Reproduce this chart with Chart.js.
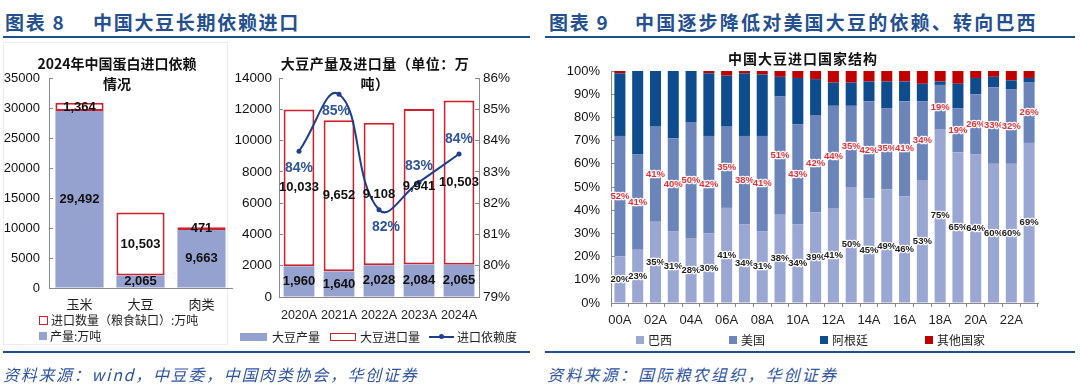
<!DOCTYPE html>
<html>
<head>
<meta charset="utf-8">
<script src="https://cdn.jsdelivr.net/npm/chart.js@4.4.0/dist/chart.umd.min.js"></script>
<style>
body{margin:0;width:1080px;height:390px;background:#fff;position:relative;overflow:hidden;font-family:"Noto Sans CJK SC",sans-serif}
.abs{position:absolute}
.hdr{font-weight:bold;color:#24508f;font-size:19px;line-height:22px;letter-spacing:1.7px;white-space:nowrap}
.rule{height:2px;background:#1f4e8c}
.src{font-style:italic;color:#2f55a0;font-size:16px;line-height:20px;letter-spacing:2.2px;white-space:nowrap}
.ttl{font-weight:bold;font-size:14px;color:#111;text-align:center;line-height:20px;white-space:nowrap}
.lg{font-size:12px;color:#222;white-space:nowrap;line-height:14px;display:flex;align-items:center}
.sw{display:inline-block;box-sizing:border-box;margin-right:3px}
canvas{position:absolute}
</style>
</head>
<body>
<!-- left panel -->
<div class="abs hdr" style="left:5px;top:11px">图表 8</div>
<div class="abs hdr" style="left:93px;top:11px">中国大豆长期依赖进口</div>
<div class="abs rule" style="left:3px;top:36px;width:527px"></div>
<div class="abs" style="left:3px;top:42px;width:225px;height:303px;border:1px solid #ececec;box-sizing:border-box"></div>
<canvas id="c1" width="236" height="278" style="left:0;top:42px"></canvas>
<canvas id="c2" width="300" height="290" style="left:232px;top:42px"></canvas>
<div class="abs ttl" style="left:17px;top:53px;width:200px">2024年中国蛋白进口依赖<br>情况</div>
<div class="abs ttl" style="left:275px;top:53px;width:200px;letter-spacing:0.5px">大豆产量及进口量（单位：万<br>吨）</div>
<div class="abs lg" style="left:39px;top:313px"><span class="sw" style="width:9px;height:9px;border:1.5px solid #d0202e;background:#fff"></span>进口数量（粮食缺口）:万吨</div>
<div class="abs lg" style="left:39px;top:329px"><span class="sw" style="width:8px;height:8px;background:#95a2cf"></span>产量:万吨</div>
<div class="abs lg" style="left:240px;top:330px">
  <span class="sw" style="width:27px;height:8px;background:#95a2cf;margin-right:5px"></span>大豆产量
  <span class="sw" style="width:26px;height:8px;border:1.5px solid #d0202e;background:#fff;margin-left:10px;margin-right:4px"></span>大豆进口量
  <span class="sw" style="width:25px;height:2px;background:#1f3f8a;margin-left:9px;margin-right:3px;position:relative"><span style="position:absolute;left:10px;top:-2px;width:5px;height:5px;border-radius:50%;background:#1f3f8a"></span></span>进口依赖度
</div>
<div class="abs rule" style="left:3px;top:351px;width:527px"></div>
<div class="abs src" style="left:3px;top:364px;letter-spacing:1.7px">资料来源：wind，中豆委，中国肉类协会，华创证券</div>

<!-- right panel -->
<div class="abs hdr" style="left:549px;top:11px">图表 9</div>
<div class="abs hdr" style="left:635px;top:11px;letter-spacing:2.2px">中国逐步降低对美国大豆的依赖、转向巴西</div>
<div class="abs rule" style="left:545px;top:36px;width:530px"></div>
<canvas id="c3" width="530" height="290" style="left:545px;top:42px"></canvas>
<div class="abs ttl" style="left:703px;top:48px;width:200px;letter-spacing:1px">中国大豆进口国家结构</div>
<div class="abs lg" style="left:636px;top:333px"><span class="sw" style="width:8px;height:8px;background:#9ba7d3;margin-right:4px"></span>巴西</div>
<div class="abs lg" style="left:729px;top:333px"><span class="sw" style="width:8px;height:8px;background:#6b84ba;margin-right:4px"></span>美国</div>
<div class="abs lg" style="left:820px;top:333px"><span class="sw" style="width:8px;height:8px;background:#0e4c8e;margin-right:4px"></span>阿根廷</div>
<div class="abs lg" style="left:925px;top:333px"><span class="sw" style="width:8px;height:8px;background:#c00000;margin-right:4px"></span>其他国家</div>
<div class="abs rule" style="left:545px;top:351px;width:530px"></div>
<div class="abs src" style="left:547px;top:364px">资料来源：国际粮农组织，华创证券</div>

<script>
// 2024 protein import dependence (万吨)
const crops = ['玉米', '大豆', '肉类'];
const cropOutput = [29492, 2065, 9663];
const cropImport = [1364, 10503, 471];

// soybean output / imports (万吨) and import dependence (%)
const soyYears = ['2020A', '2021A', '2022A', '2023A', '2024A'];
const soyOutput = [1960, 1640, 2028, 2084, 2065];
const soyImport = [10033, 9652, 9108, 9941, 10503];
const soyRatio = [83.66, 85.48, 81.79, 82.67, 83.57];

// soybean import origin shares (%)
const originYears = ['00A','01A','02A','03A','04A','05A','06A','07A','08A','09A','10A','11A',
                     '12A','13A','14A','15A','16A','17A','18A','19A','20A','21A','22A','23A'];
const brazil = [20,23,35,31,28,30,41,34,31,38,34,39,41,50,45,49,46,53,75,65,64,60,60,69];
const usa = [52,41,41,40,50,42,35,38,41,51,43,42,44,35,42,35,41,34,19,19,26,33,32,26];
const argentina = [27,36,24,29,22,27,22,27,26.5,8.5,20,15.5,10,10,8.5,11.5,8.5,7.5,1.5,10.5,7,4.5,4,2];
const others = [1,0,0,0,0,1,2,1,1.5,2.5,3,3.5,5,5,4.5,4.5,4.5,5.5,4.5,5.5,3,2.5,4,3];

const BLUE = '#95a2cf', RED = '#d0202e', AX = '#8a8a8a';
const CJK = '"Noto Sans CJK SC", sans-serif';
Chart.defaults.font.family = '"Liberation Sans", Arial, sans-serif';
Chart.defaults.color = '#111';

const thousands = v => v.toLocaleString('en-US');

// draws text labels on bar segments / line points
function segLabels(specs) {
  return {
    id: 'segLabels',
    afterDatasetsDraw(chart) {
      const ctx = chart.ctx;
      specs.forEach(s => {
        const meta = chart.getDatasetMeta(s.ds);
        const vals = chart.data.datasets[s.ds].data;
        meta.data.forEach((el, i) => {
          const p = el.getProps(['x', 'y', 'base'], true);
          let x = p.x, y;
          if (s.at) { x += s.at[i][0]; y = p.y + s.at[i][1]; }
          else y = (p.y + p.base) / 2;
          const txt = s.text(vals[i]);
          ctx.save();
          ctx.font = s.font;
          ctx.textAlign = 'center';
          ctx.textBaseline = 'middle';
          if (s.halo) {
            ctx.lineWidth = s.halo; ctx.strokeStyle = '#fff'; ctx.lineJoin = 'round';
            ctx.strokeText(txt, x, y);
          }
          ctx.fillStyle = s.color;
          ctx.fillText(txt, x, y);
          ctx.restore();
        });
      });
    }
  };
}

const noPlug = { legend: { display: false }, tooltip: { enabled: false } };

// chart 1
new Chart(document.getElementById('c1'), {
  type: 'bar',
  data: {
    labels: crops,
    datasets: [
      { label: '产量:万吨', data: cropOutput, backgroundColor: BLUE, borderWidth: 0 },
      { label: '进口数量（粮食缺口）:万吨', data: cropImport, backgroundColor: '#fff',
        borderColor: RED, borderWidth: 2, borderSkipped: false }
    ]
  },
  options: {
    responsive: false, animation: false,
    layout: { padding: { top: 36, right: 4, left: 0, bottom: 0 } },
    datasets: { bar: { categoryPercentage: 1, barPercentage: 0.79 } },
    plugins: noPlug,
    scales: {
      x: { stacked: true, grid: { display: false, drawTicks: false }, border: { color: AX },
           ticks: { font: { family: CJK, size: 13 }, color: '#222', padding: 8 },
           afterFit: s => { s.height = 32; } },
      y: { stacked: true, min: 0, max: 35000,
           ticks: { stepSize: 5000, font: { size: 13 }, color: '#111', padding: 13, callback: v => String(v) },
           grid: { drawOnChartArea: false, tickLength: -4, color: AX }, border: { color: AX },
           afterFit: s => { s.width = 49; } }
    }
  },
  plugins: [segLabels([
    { ds: 0, text: thousands, font: 'bold 13px "Liberation Sans", Arial', color: '#111' },
    { ds: 1, text: thousands, font: 'bold 13px "Liberation Sans", Arial', color: '#111' }
  ])]
});

// chart 2
new Chart(document.getElementById('c2'), {
  type: 'bar',
  data: {
    labels: soyYears,
    datasets: [
      { label: '大豆产量', data: soyOutput, backgroundColor: BLUE, borderWidth: 0, order: 2 },
      { label: '大豆进口量', data: soyImport, backgroundColor: '#fff', borderColor: RED,
        borderWidth: 2, borderSkipped: false, order: 2 },
      { type: 'line', label: '进口依赖度', data: soyRatio, yAxisID: 'y1', order: 0,
        borderColor: '#1f3f8a', borderWidth: 2, tension: 0.45,
        pointRadius: 2.5, pointBackgroundColor: '#1f3f8a', pointBorderWidth: 0 }
    ]
  },
  options: {
    responsive: false, animation: false,
    layout: { padding: { top: 36, right: 0, left: 0, bottom: 0 } },
    datasets: { bar: { categoryPercentage: 1, barPercentage: 0.77 } },
    plugins: noPlug,
    scales: {
      x: { stacked: true, grid: { display: false, drawTicks: false }, border: { color: AX },
           ticks: { font: { size: 12.5 }, color: '#222', padding: 11, autoSkip: false, maxRotation: 0 },
           afterFit: s => { s.height = 35; } },
      y: { stacked: true, min: 0, max: 14000,
           ticks: { stepSize: 2000, font: { size: 13.5 }, color: '#111', padding: 11, callback: v => String(v) },
           grid: { drawOnChartArea: false, tickLength: -4, color: AX }, border: { color: AX },
           afterFit: s => { s.width = 47; } },
      y1: { position: 'right', min: 79, max: 86,
            ticks: { stepSize: 1, font: { size: 13.5 }, color: '#111', padding: 8, callback: v => v + '%' },
            grid: { drawOnChartArea: false, tickLength: -4, color: AX }, border: { color: AX },
            afterFit: s => { s.width = 53; } }
    }
  },
  plugins: [segLabels([
    { ds: 0, text: thousands, font: 'bold 13px "Liberation Sans", Arial', color: '#111' },
    { ds: 1, text: thousands, font: 'bold 13px "Liberation Sans", Arial', color: '#111' },
    { ds: 2, text: v => Math.round(v) + '%', font: 'bold 14px "Liberation Sans", Arial', color: '#2e5597',
      at: [[0, 17], [-3, 17], [7, 17], [0, -16], [0, -15]] }
  ])]
});

// chart 3
new Chart(document.getElementById('c3'), {
  type: 'bar',
  data: {
    labels: originYears,
    datasets: [
      { label: '巴西', data: brazil, backgroundColor: '#9ba7d3', borderWidth: 0 },
      { label: '美国', data: usa, backgroundColor: '#6b84ba', borderWidth: 0 },
      { label: '阿根廷', data: argentina, backgroundColor: '#0e4c8e', borderWidth: 0 },
      { label: '其他国家', data: others, backgroundColor: '#c00000', borderWidth: 0 }
    ]
  },
  options: {
    responsive: false, animation: false,
    layout: { padding: { top: 29, right: 37, left: 0, bottom: 0 } },
    datasets: { bar: { categoryPercentage: 1, barPercentage: 0.62 } },
    plugins: noPlug,
    scales: {
      x: { stacked: true,
           grid: { drawOnChartArea: false, tickLength: 4, color: AX, offset: true }, border: { color: AX },
           ticks: { autoSkip: false, maxRotation: 0, font: { size: 13 }, color: '#222', padding: 6,
                    callback: (v, i) => (i % 2 ? '' : originYears[i]) },
           afterFit: s => { s.height = 29; } },
      y: { stacked: true, min: 0, max: 100,
           ticks: { stepSize: 10, font: { size: 13 }, color: '#111', padding: 15, callback: v => v + '%' },
           grid: { drawOnChartArea: false, tickLength: -4, color: AX }, border: { color: AX },
           afterFit: s => { s.width = 66; } }
    }
  },
  plugins: [segLabels([
    { ds: 0, text: v => v + '%', font: 'bold 9.5px "Liberation Sans", Arial', color: '#222', halo: 2.5 },
    { ds: 1, text: v => v + '%', font: 'bold 9.5px "Liberation Sans", Arial', color: '#e0303a', halo: 2.5 }
  ])]
});
</script>
</body>
</html>
